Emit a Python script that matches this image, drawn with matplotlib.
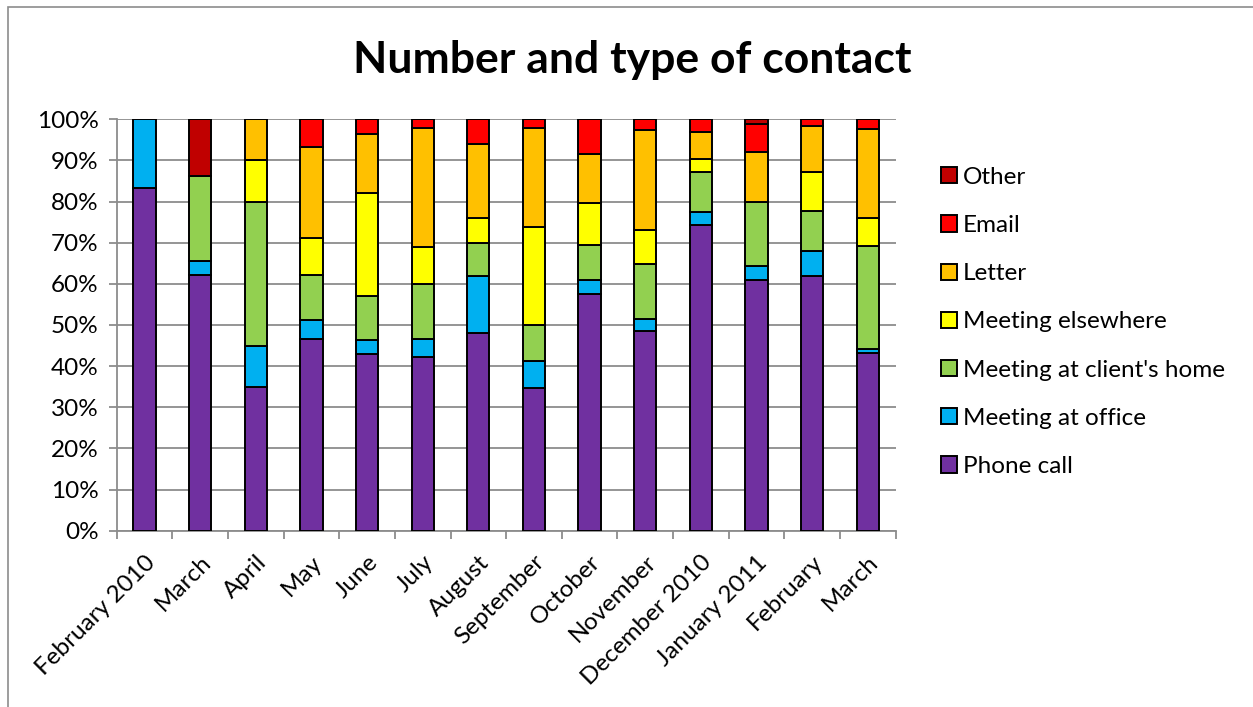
import numpy as np
import matplotlib
matplotlib.use("Agg")
import matplotlib.pyplot as plt
from matplotlib.patches import Patch, Rectangle

plt.rcParams['font.family'] = ['Lato', 'DejaVu Sans']

months = ["February 2010", "March", "April", "May", "June", "July", "August",
          "September", "October", "November", "December 2010", "January 2011",
          "February", "March"]

# share of contacts per month, in percent
phone_call = [83.3, 62.1, 35.0, 46.7, 42.9, 42.2, 48.0, 34.8, 57.6, 48.6, 74.2, 61.0, 62.0, 43.1]
meeting_office = [16.7, 3.4, 10.0, 4.4, 3.6, 4.4, 14.0, 6.5, 3.4, 2.7, 3.2, 3.4, 6.1, 1.1]
meeting_home = [0, 20.7, 35.0, 11.1, 10.7, 13.3, 8.0, 8.7, 8.5, 13.5, 9.7, 15.6, 9.5, 25.1]
meeting_elsewhere = [0, 0, 10.0, 8.9, 25.0, 8.9, 6.0, 23.9, 10.2, 8.1, 3.2, 0, 9.5, 6.8]
letter = [0, 0, 10.0, 22.2, 14.3, 28.9, 18.0, 23.9, 11.9, 24.3, 6.5, 12.1, 11.3, 21.5]
email = [0, 0, 0, 6.7, 3.6, 2.2, 6.0, 2.2, 8.5, 2.7, 3.2, 6.8, 1.6, 2.4]
other = [0, 13.8, 0, 0, 0, 0, 0, 0, 0, 0, 0, 1.1, 0, 0]

series = [
    ("Phone call", phone_call, "#7030A0"),
    ("Meeting at office", meeting_office, "#00B0F0"),
    ("Meeting at client's home", meeting_home, "#92D050"),
    ("Meeting elsewhere", meeting_elsewhere, "#FFFF00"),
    ("Letter", letter, "#FFC000"),
    ("Email", email, "#FF0000"),
    ("Other", other, "#C00000"),
]

vals = np.array([s[1] for s in series], dtype=float)
vals = vals / vals.sum(axis=0) * 100  # 100% stacked

fig = plt.figure(figsize=(12.53, 7.07), dpi=100)
ax = fig.add_axes([0.0931, 0.2494, 0.6217, 0.5819])

# chart area frame (left and top edges)
fig.patches.append(Rectangle((8 / 1253, -0.1), 1.2, 1 - 7 / 707 + 0.1,
                             transform=fig.transFigure, fill=False,
                             edgecolor="#8c8c8c", linewidth=1.2))

x = np.arange(len(months))
bottom = np.zeros(len(months))
for i, (name, _, color) in enumerate(series):
    v = vals[i]
    m = v > 0
    ax.bar(x[m], v[m], width=0.4, bottom=bottom[m], color=color,
           edgecolor="black", linewidth=1.4, zorder=3)
    bottom += v

ax.set_xlim(-0.5, len(months) - 0.5)
ax.set_ylim(0, 100)
ax.set_yticks(np.arange(0, 101, 10))
ax.set_yticklabels([f"{t}%" for t in range(0, 101, 10)], fontsize=17.5)
ax.yaxis.grid(True, color="#8c8c8c", linewidth=1.3, zorder=0)
ax.set_axisbelow(True)

ax.set_xticks(np.arange(-0.5, len(months), 1.0))
ax.set_xticklabels([])
ax.set_xticks(x, minor=True)
ax.set_xticklabels(months, minor=True, rotation=45, ha="right",
                   rotation_mode="anchor", fontsize=17.5)
ax.tick_params(axis="x", which="minor", length=0, pad=15)
ax.tick_params(axis="x", which="major", length=6, color="#8c8c8c", width=1.3)
ax.tick_params(axis="y", length=6, color="#8c8c8c", width=1.3, pad=7)

for side in ("top", "right"):
    ax.spines[side].set_visible(False)
for side in ("left", "bottom"):
    ax.spines[side].set_color("#8c8c8c")
    ax.spines[side].set_linewidth(1.3)

fig.text(0.5044, 0.8972, "Number and type of contact", ha="center", va="baseline",
         fontsize=32, fontweight="bold")

handles = [Patch(facecolor=c, edgecolor="black", linewidth=1.4, label=n)
           for n, _, c in reversed(series)]
fig.legend(handles=handles, loc="upper left", bbox_to_anchor=(0.7335, 0.795),
           frameon=False, fontsize=17.5, handlelength=0.65, handleheight=0.65,
           handletextpad=0.25, labelspacing=1.12)

fig.savefig("out.png", dpi=100)
